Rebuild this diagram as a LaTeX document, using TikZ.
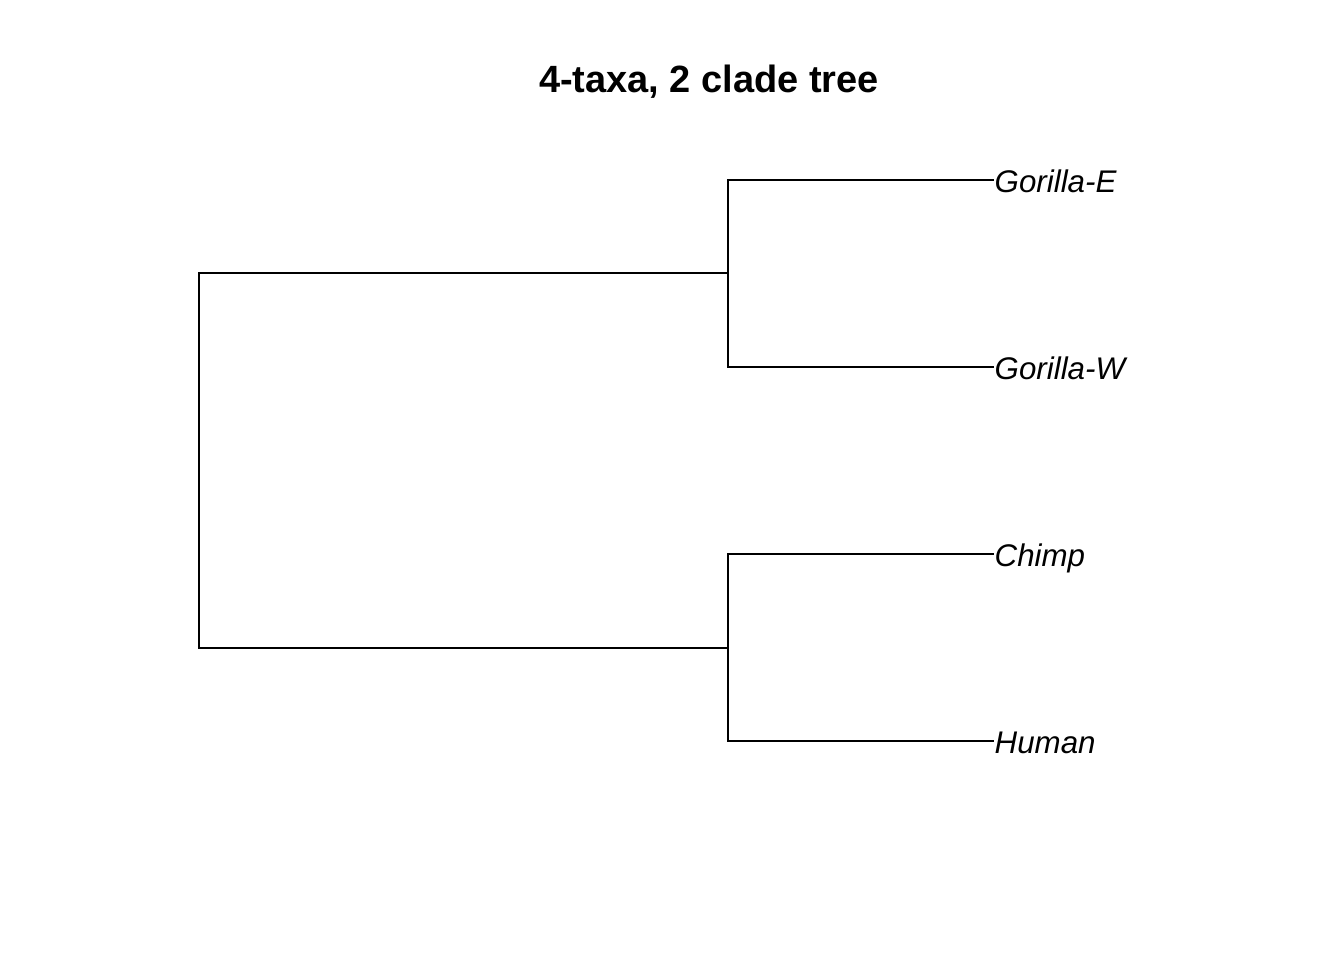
\documentclass[tikz,border=0pt]{standalone}
\usepackage{fontspec}
\setmainfont{Liberation Sans}
\usetikzlibrary{positioning}
\tikzset{branch/.style={line width=0.6pt, line cap=rect}}
\tikzset{taxon/.style={anchor=base west, inner sep=0pt, font=\fontsize{8.9}{10}\selectfont\itshape, yshift=-0.12cm, xshift=0.01cm}}

\begin{document}
\begin{tikzpicture}[x=0.01cm,y=-0.01cm]
      \useasboundingbox (0,0) rectangle (1344,960);
      \node[font=\fontsize{10.8}{13}\selectfont\bfseries, anchor=base] (title) at (709,92) {4-taxa, 2 clade tree};
      \coordinate (root) at (199,460);
      \coordinate (gor) at (728,273);
      \coordinate (hom) at (728,648);
      \coordinate (gorE) at (993,180);
      \coordinate (gorW) at (993,367);
      \coordinate (chimp) at (993,554);
      \coordinate (human) at (993,741);
      \draw[branch] (gor) -| (root) |- (hom);
      \draw[branch] (gorE) -| (gor) |- (gorW);
      \draw[branch] (chimp) -| (hom) |- (human);
      \node[taxon] (lgorE) at (gorE) {Gorilla-E};
      \node[taxon] (lgorW) at (gorW) {Gorilla-W};
      \node[taxon] (lchimp) at (chimp) {Chimp};
      \node[taxon] (lhuman) at (human) {Human};
    \end{tikzpicture}
\end{document}
